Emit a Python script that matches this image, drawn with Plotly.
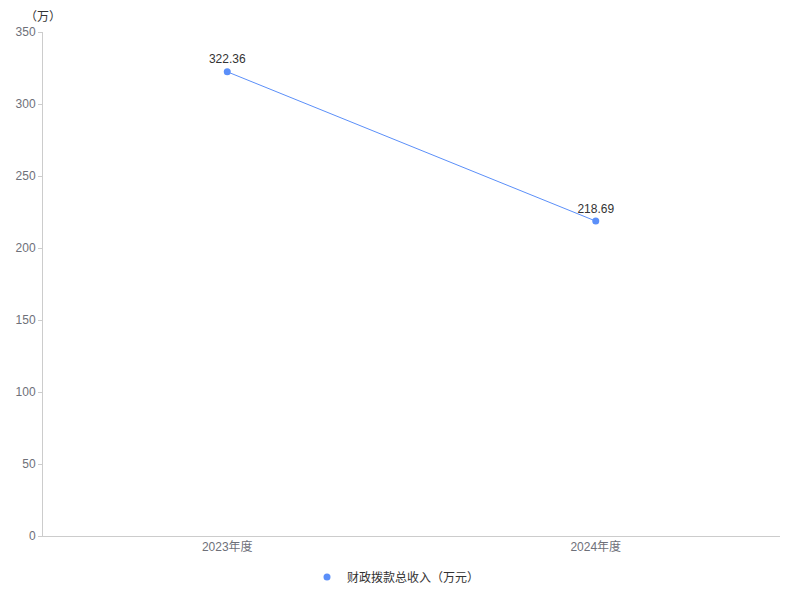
import plotly.graph_objects as go

categories = ["2023年度", "2024年度"]
values = [322.36, 218.69]
series_name = "财政拨款总收入（万元）"
y_ticks = [0, 50, 100, 150, 200, 250, 300, 350]

color = "#5B8FF9"
font_family = "Noto Sans CJK SC, Liberation Sans, Arial, sans-serif"

fig = go.Figure()
fig.add_trace(go.Scatter(
    x=categories, y=values, mode="lines+markers+text", name=series_name,
    line=dict(color=color, width=1),
    marker=dict(color=color, size=7),
    text=[f"{v:.2f}" for v in values], textposition="top center",
    textfont=dict(size=12, color="#333333", family="Liberation Sans, Arial, sans-serif"),
    cliponaxis=False, showlegend=False,
))
# legend entry: dot only
fig.add_trace(go.Scatter(
    x=[None], y=[None], mode="markers", name=series_name,
    marker=dict(color=color, size=7), showlegend=True,
))

fig.update_layout(
    width=800, height=600,
    margin=dict(l=35, r=28, t=24, b=72, autoexpand=False),
    paper_bgcolor="white", plot_bgcolor="white",
    font=dict(family=font_family, size=12, color="#6e7079"),
    showlegend=True,
    legend=dict(orientation="h", x=388 / 800, xanchor="center", xref="container",
                y=1 - 569 / 600, yanchor="middle", yref="container",
                font=dict(size=12, color="#333333"), itemwidth=30),
    xaxis=dict(type="category", range=[-0.5, 1.5], showgrid=False, showline=True,
               linecolor="#cccccc", linewidth=1, automargin=False,
               ticks="", tickfont=dict(size=12, color="#6e7079",
                                       family="Liberation Sans, Noto Sans CJK SC, sans-serif"),
               zeroline=False),
    yaxis=dict(range=[0, 350], tickvals=y_ticks, showgrid=False, showline=True,
               linecolor="#cccccc", linewidth=1, ticks="outside", ticklen=4,
               tickcolor="#cccccc", zeroline=False, automargin=False,
               tickfont=dict(size=12, color="#6e7079", family="Liberation Sans, Arial, sans-serif")),
    annotations=[dict(text="（万）", x=0, xref="paper", xanchor="center", y=1,
                      yref="paper", yanchor="middle", yshift=17, showarrow=False,
                      font=dict(size=12, color="#333333"))],
)

fig.write_html("out.html")
